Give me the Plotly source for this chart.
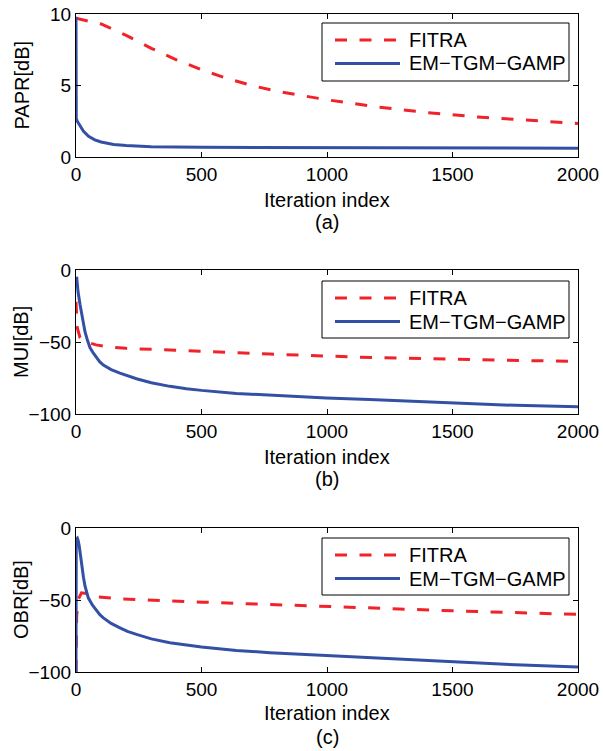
import plotly.graph_objects as go

# ---------------- data ----------------
# (a) PAPR [dB]
papr_fitra_x = [0, 100, 200, 300, 400, 500, 600, 700, 800, 900, 1000, 1200, 1400, 1600, 1800, 2000]
papr_fitra_y = [9.7, 9.3, 8.5, 7.6, 6.8, 6.1, 5.5, 5.0, 4.6, 4.3, 4.0, 3.5, 3.1, 2.8, 2.55, 2.35]
papr_gamp_x = [0, 1, 5, 15, 30, 50, 75, 100, 150, 200, 300, 500, 1000, 1500, 2000]
papr_gamp_y = [9.8, 2.7, 2.5, 2.2, 1.8, 1.45, 1.2, 1.05, 0.88, 0.8, 0.72, 0.68, 0.65, 0.63, 0.62]

# (b) MUI [dB]
mui_fitra_x = [0, 5, 16, 42, 80, 135, 200, 308, 507, 772, 1130, 1500, 2000]
mui_fitra_y = [-22, -40, -47, -50, -52, -53.6, -54.4, -55.2, -56.6, -58.4, -60.5, -62, -63.5]
mui_gamp_x = [2.6, 8, 16, 25, 36, 46, 56, 70, 82, 95, 109, 140, 175, 205, 241, 300, 374, 440,
              500, 639, 772, 997, 1170, 1500, 1750, 2000]
mui_gamp_y = [-4.6, -15, -24, -34, -43, -49, -54, -58, -61, -63.8, -66, -69.2, -71.6, -73.6, -75.5,
              -78.3, -80.8, -82.4, -83.6, -85.7, -87, -88.9, -90, -92.5, -94, -95]

# (c) OBR [dB]
obr_fitra_x = [0, 2.6, 9, 22, 42, 82, 175, 374, 507, 772, 1143, 1500, 2000]
obr_fitra_y = [-100, -61, -49.6, -45, -45.5, -47.8, -49.2, -50.8, -51.5, -53.1, -55.4, -57.5, -60]
obr_gamp_x = [0, 1, 5, 9, 13, 18, 22.5, 30, 36, 42, 49, 65, 82, 95, 109, 140, 175, 205, 241, 300,
              374, 440, 500, 639, 772, 997, 1170, 1500, 1750, 2000]
obr_gamp_y = [-100, -7.6, -7, -9, -12.7, -20, -26.6, -34.5, -40.4, -44.5, -48.5, -53.5, -57.7,
              -60.2, -62.4, -66.3, -69.3, -71.8, -73.9, -77, -79.7, -81.4, -82.7, -85, -86.6,
              -88.5, -90, -93, -95, -96.5]

series_names = ["FITRA", "EM\u2212TGM\u2212GAMP"]
panel_ylabels = ["PAPR[dB]", "MUI[dB]", "OBR[dB]"]
panel_tags = ["(a)", "(b)", "(c)"]
x_ticks = [0, 500, 1000, 1500, 2000]
y_ticks = [[0, 5, 10], [-100, -50, 0], [-100, -50, 0]]
y_ranges = [[0, 10], [-100, 0], [-100, 0]]

# ---------------- styling ----------------
W, H = 603, 751
RED = "#f0222a"
BLUE = "#3450a5"
FONT = "Liberation Sans, Arial, Helvetica, sans-serif"
FS_TICK = 19
FS_TEXT = 20
DASH = "12px,12.5px"

def py(pix):  # page pixel -> paper y
    return (H - pix) / H

def px(pix):  # page pixel -> paper x
    return pix / W

x_dom = [px(76), px(578)]
panel_pix = [(14, 157), (270, 414), (528, 672)]
title_pix = [200, 457, 713]
tag_pix = [222, 479, 737]
legend_box = [(23, 81), (281, 338), (538, 595)]
LEG_X0, LEG_X1 = 322, 569
LEG_LINE0, LEG_LINE1, LEG_TEXT = 335, 400, 407

fig = go.Figure()

panels = [
    (papr_fitra_x, papr_fitra_y, papr_gamp_x, papr_gamp_y),
    (mui_fitra_x, mui_fitra_y, mui_gamp_x, mui_gamp_y),
    (obr_fitra_x, obr_fitra_y, obr_gamp_x, obr_gamp_y),
]

annotations = []
shapes = []
for i, (fx, fy, gx, gy) in enumerate(panels):
    n = "" if i == 0 else str(i + 1)
    fig.add_trace(go.Scatter(x=fx, y=fy, mode="lines", name=series_names[0],
                             line=dict(color=RED, width=3, dash=DASH),
                             xaxis="x" + n, yaxis="y" + n, showlegend=False))
    fig.add_trace(go.Scatter(x=gx, y=gy, mode="lines", name=series_names[1],
                             line=dict(color=BLUE, width=3),
                             xaxis="x" + n, yaxis="y" + n, showlegend=False))
    top, bot = panel_pix[i]
    ax_common = dict(showline=True, linecolor="black", linewidth=1, mirror="ticks",
                     ticks="inside", ticklen=5, tickcolor="black", showgrid=False,
                     zeroline=False, automargin=False, ticklabeloverflow="allow",
                     tickfont=dict(family=FONT, size=FS_TICK, color="black"))
    fig.update_layout(**{
        "xaxis" + n: dict(domain=x_dom, range=[0, 2000], tickvals=x_ticks,
                          anchor="y" + n, **ax_common),
        "yaxis" + n: dict(domain=[py(bot), py(top)], range=y_ranges[i], tickvals=y_ticks[i],
                          anchor="x" + n, **ax_common),
    })
    for txt, ypix in (("Iteration index", title_pix[i]), (panel_tags[i], tag_pix[i])):
        annotations.append(dict(text=txt, xref="paper", yref="paper",
                                x=sum(x_dom) / 2, y=py(ypix), showarrow=False,
                                xanchor="center", yanchor="middle",
                                font=dict(family=FONT, size=FS_TEXT, color="black")))
    annotations.append(dict(text=panel_ylabels[i], xref="paper", yref="paper",
                            x=px(21), y=py((top + bot) / 2), showarrow=False,
                            textangle=-90, xanchor="center", yanchor="middle",
                            font=dict(family=FONT, size=FS_TEXT, color="black")))
    # legend box
    lt, lb = legend_box[i]
    shapes.append(dict(type="rect", xref="paper", yref="paper",
                       x0=px(LEG_X0), x1=px(LEG_X1), y0=py(lb), y1=py(lt),
                       line=dict(color="black", width=1), fillcolor="white", layer="above"))
    for k, (col, dash) in enumerate(((RED, DASH), (BLUE, "solid"))):
        yy = lt + 17 + 23.5 * k
        shapes.append(dict(type="line", xref="paper", yref="paper",
                           x0=px(LEG_LINE0), x1=px(LEG_LINE1), y0=py(yy), y1=py(yy),
                           line=dict(color=col, width=3, dash=dash), layer="above"))
        annotations.append(dict(text=series_names[k], xref="paper", yref="paper",
                                x=px(LEG_TEXT), y=py(yy), showarrow=False,
                                xanchor="left", yanchor="middle",
                                font=dict(family=FONT, size=FS_TEXT, color="black")))

fig.update_layout(template="none", width=W, height=H,
                  margin=dict(l=0, r=0, t=0, b=0, pad=0, autoexpand=False),
                  paper_bgcolor="white", plot_bgcolor="white",
                  annotations=annotations, shapes=shapes, showlegend=False)

fig.write_html("out.html",
               config={"displayModeBar": False},
               post_script="document.body.style.margin='0px';"
                           "document.body.style.overflow='hidden';")
